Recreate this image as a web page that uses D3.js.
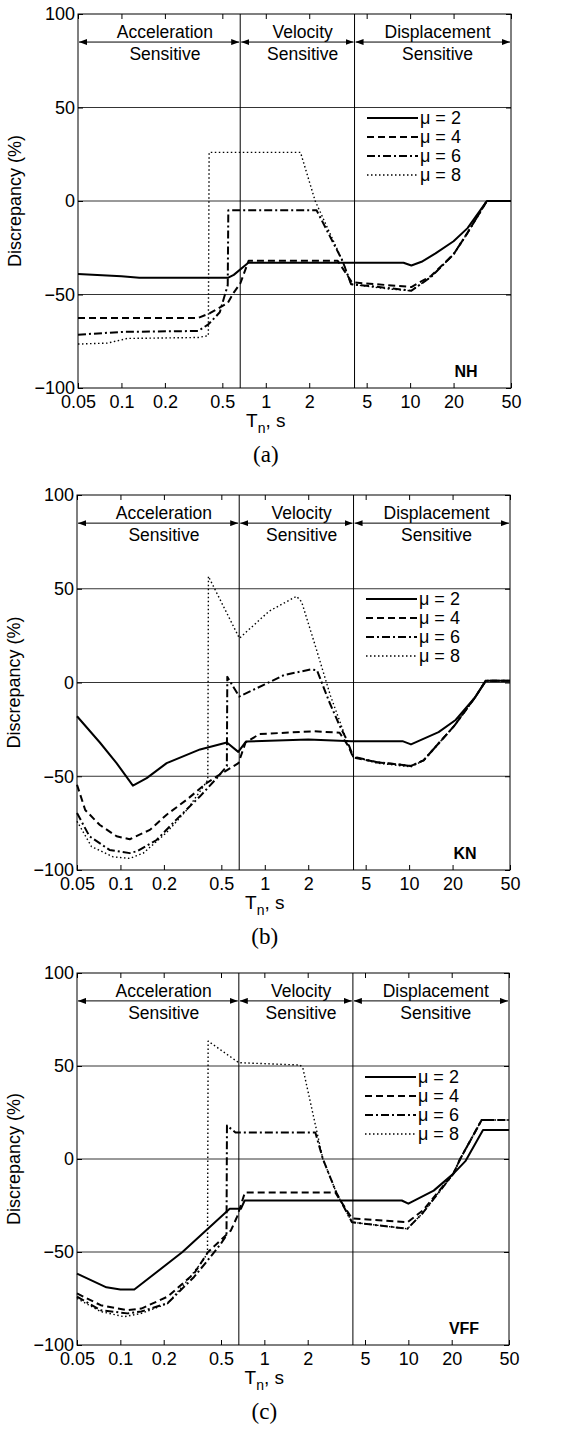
<!DOCTYPE html>
<html>
<head>
<meta charset="utf-8">
<script src="https://cdn.jsdelivr.net/npm/d3@7"></script>
<style>
  html, body { margin: 0; padding: 0; background: #fff; }
  svg { display: block; }
  text { font-family: "Liberation Sans", Arial, Helvetica, sans-serif; fill: #000; }
</style>
</head>
<body>
<svg id="fig" width="570" height="1431"></svg>
<script>
// ---- axis ticks and labels ----
const periodTicks = [0.05, 0.1, 0.2, 0.5, 1, 2, 5, 10, 20, 50];
const periodTickLabels = ["0.05", "0.1", "0.2", "0.5", "1", "2", "5", "10", "20", "50"];
const discrepancyTicks = [-100, -50, 0, 50, 100];
const discrepancyTickLabels = ["\u2212100", "\u221250", "0", "50", "100"];
const gridValues = [-50, 0, 50];

// ---- spectral regions ----
const regionBounds = [0.665, 4.12];
const regionNames = ["Acceleration", "Velocity", "Displacement"];
const regionSubNames = ["Sensitive", "Sensitive", "Sensitive"];
const regionLabelPeriods = [0.2, 1.8, 15.5];
const regionArrowLevel = 85;

// ---- series ----
const ductility = [2, 4, 6, 8];
const modelNames = ["NH", "KN", "VFF"];
const panelTags = ["(a)", "(b)", "(c)"];

// NH model: [Tn (s), discrepancy (%)]
const nhMu2 = [[0.05,-39],[0.1,-40.2],[0.133,-41],[0.55,-41],[0.6,-39.5],[0.757,-33],[9,-33],[10.2,-34.5],[12,-32.5],[15,-28],[20,-21.5],[25,-14.5],[34,0],[50,0]];
const nhMu4 = [[0.05,-62.5],[0.34,-62.5],[0.41,-60],[0.545,-54.5],[0.6,-49],[0.667,-44],[0.76,-32],[3.15,-32],[3.95,-43.5],[7,-45],[10.2,-46],[14,-40],[20,-28.5],[25,-17],[34,0],[50,0]];
const nhMu6 = [[0.05,-71.5],[0.1,-70],[0.34,-69.5],[0.4,-66],[0.48,-59.5],[0.545,-45],[0.55,-5],[2.25,-5],[3.4,-32],[3.9,-44.5],[7,-46.5],[10.2,-48],[14,-40.5],[20,-28.5],[25,-17],[34,0],[50,0]];
const nhMu8 = [[0.05,-76.5],[0.08,-76],[0.11,-73.5],[0.34,-73],[0.4,-72],[0.405,26],[1.74,26],[2.2,0],[3.4,-32],[3.9,-44.5],[7,-47],[10.2,-48],[14,-40.5],[20,-28.5],[25,-17],[34,0],[50,0]];

// KN model
const knMu2 = [[0.05,-18],[0.072,-32],[0.094,-43],[0.122,-55],[0.152,-51],[0.209,-43],[0.356,-35.7],[0.546,-32],[0.655,-37],[0.74,-31.5],[2,-30.4],[4,-31.3],[9,-31.3],[10.3,-33],[16,-26.5],[21,-20],[28.6,-8],[34,1],[50,1]];
const knMu4 = [[0.05,-54.5],[0.057,-68],[0.072,-76],[0.094,-82],[0.116,-83.6],[0.16,-78.6],[0.209,-70.5],[0.288,-62.5],[0.396,-53.6],[0.49,-49],[0.657,-43],[0.736,-32],[0.92,-27.5],[2.2,-26],[3.3,-26.8],[3.8,-34],[4.1,-40],[6,-42.5],[10.3,-44.5],[12.6,-41.5],[20.6,-23],[28.6,-8],[34,1],[50,1]];
const knMu6 = [[0.05,-69.6],[0.061,-82],[0.084,-89.3],[0.116,-91],[0.13,-90],[0.178,-84],[0.245,-73],[0.356,-60.7],[0.465,-51],[0.546,-44.6],[0.55,3],[0.665,-7.5],[1,-1],[1.36,4],[2.1,7],[2.3,6.5],[2.8,-10.4],[3.3,-23],[3.67,-30],[4.1,-39.5],[6,-42.5],[10.3,-44.5],[12.6,-41.5],[20.6,-23],[28.6,-8],[34,1],[50,1]];
const knMu8 = [[0.05,-74],[0.063,-87.5],[0.089,-93],[0.116,-93.8],[0.144,-91],[0.209,-80],[0.288,-68],[0.376,-55.4],[0.403,-52],[0.407,56.6],[0.667,23.6],[1.07,38],[1.66,46],[1.8,43],[2.23,20],[2.85,-7],[3.66,-30],[4.1,-39.5],[6,-43],[10.3,-45],[12.6,-41.5],[20.6,-23],[28.6,-8],[34,1],[50,1]];

// VFF model
const vffMu2 = [[0.05,-61.6],[0.08,-69],[0.1,-70.2],[0.125,-70.2],[0.27,-50],[0.575,-26.8],[0.687,-26.8],[0.73,-22.3],[9,-22.3],[10,-24],[15,-17],[20.5,-8],[25,-1],[33,15.6],[50,15.6]];
const vffMu4 = [[0.05,-72.3],[0.073,-78.6],[0.112,-81.3],[0.14,-80.4],[0.213,-74],[0.325,-61.6],[0.407,-50],[0.586,-38.4],[0.647,-31],[0.668,-27.7],[0.733,-18],[3.11,-18],[4.06,-32],[9.85,-34],[12.6,-27.7],[20.5,-8],[22.9,0],[32.3,21],[50,21]];
const vffMu6 = [[0.05,-74],[0.073,-81.3],[0.112,-83],[0.14,-82],[0.213,-77.5],[0.325,-63.4],[0.404,-54.5],[0.5,-45.5],[0.546,-41],[0.55,18],[0.63,14.3],[2.26,14.3],[2.55,0],[3.16,-18],[4.06,-34],[9.85,-37.5],[12.6,-29],[20.5,-8],[22.9,0],[32.3,21],[50,21]];
const vffMu8 = [[0.05,-75],[0.073,-82],[0.106,-84.8],[0.14,-83],[0.213,-77.7],[0.293,-65.2],[0.383,-53.6],[0.403,-50],[0.407,63.4],[0.664,51.8],[1.77,50.5],[1.85,49],[2.55,0],[3.16,-18],[4.06,-34],[9.85,-37.5],[12.6,-29],[20.5,-8],[22.9,0],[32.3,21],[50,21]];

const panelSeries = [
  [nhMu2, nhMu4, nhMu6, nhMu8],
  [knMu2, knMu4, knMu6, knMu8],
  [vffMu2, vffMu4, vffMu6, vffMu8]
];

// ---- layout and styles ----
const layout = [
  { left: 78, top: 14,  width: 433, height: 374 },
  { left: 77, top: 495, width: 433, height: 375 },
  { left: 77, top: 973, width: 432, height: 372 }
];
const lineStyles = [
  { dash: null,        width: 2 },
  { dash: "7,4",       width: 2 },
  { dash: "8,3,2,3",   width: 2 },
  { dash: "1.5,2.5",   width: 1.4 }
];

const svg = d3.select("#fig");

// arrowhead for the region spans
svg.append("defs").append("marker")
  .attr("id", "arrowhead")
  .attr("viewBox", "0 0 8 6")
  .attr("refX", 8).attr("refY", 3)
  .attr("markerWidth", 8).attr("markerHeight", 6)
  .attr("markerUnits", "userSpaceOnUse")
  .attr("orient", "auto-start-reverse")
  .append("path").attr("d", "M0,0 L8,3 L0,6 Z").attr("fill", "#000");

function drawPanel(p) {
  const L = layout[p];
  const right = L.left + L.width, bottom = L.top + L.height;
  const x = d3.scaleLog().domain([0.05, 50]).range([L.left, right]);
  const y = d3.scaleLinear().domain([-100, 100]).range([bottom, L.top]);
  const g = svg.append("g");

  // horizontal grid lines
  g.append("g").selectAll("line").data(gridValues).join("line")
    .attr("x1", L.left).attr("x2", right)
    .attr("y1", d => y(d)).attr("y2", d => y(d))
    .attr("stroke", "#000").attr("stroke-width", 0.8);

  // region boundaries
  g.append("g").selectAll("line").data(regionBounds).join("line")
    .attr("x1", d => x(d)).attr("x2", d => x(d))
    .attr("y1", L.top).attr("y2", bottom)
    .attr("stroke", "#000").attr("stroke-width", 1);

  // axes with inward ticks
  const styleAxis = sel => {
    sel.attr("font-family", null).attr("font-size", null);
    sel.select(".domain").remove();
    sel.selectAll(".tick line").attr("stroke", "#000").attr("stroke-width", 1);
    sel.selectAll(".tick text").style("font-size", "18px");
  };
  g.append("g").attr("transform", `translate(0,${bottom})`)
    .call(d3.axisBottom(x).tickValues(periodTicks)
      .tickFormat((d, i) => periodTickLabels[i])
      .tickSizeInner(-5).tickSizeOuter(0).tickPadding(7))
    .call(styleAxis);
  g.append("g").attr("transform", `translate(0,${L.top})`)
    .call(d3.axisTop(x).tickValues(periodTicks).tickFormat("")
      .tickSizeInner(-5).tickSizeOuter(0))
    .call(styleAxis);
  g.append("g").attr("transform", `translate(${L.left},0)`)
    .call(d3.axisLeft(y).tickValues(discrepancyTicks)
      .tickFormat((d, i) => discrepancyTickLabels[i])
      .tickSizeInner(-5).tickSizeOuter(0).tickPadding(3))
    .call(styleAxis);
  g.append("g").attr("transform", `translate(${right},0)`)
    .call(d3.axisRight(y).tickValues(discrepancyTicks).tickFormat("")
      .tickSizeInner(-5).tickSizeOuter(0))
    .call(styleAxis);

  // frame
  g.append("rect").attr("x", L.left).attr("y", L.top)
    .attr("width", L.width).attr("height", L.height)
    .attr("fill", "none").attr("stroke", "#000").attr("stroke-width", 1);

  // region spans with double arrows
  const spanEdges = [0.05, ...regionBounds, 50];
  const ay = y(regionArrowLevel);
  regionNames.forEach((name, j) => {
    g.append("line")
      .attr("x1", x(spanEdges[j]) + 1).attr("x2", x(spanEdges[j + 1]) - 1)
      .attr("y1", ay).attr("y2", ay)
      .attr("stroke", "#000").attr("stroke-width", 1)
      .attr("marker-start", "url(#arrowhead)").attr("marker-end", "url(#arrowhead)");
    g.append("text").attr("x", x(regionLabelPeriods[j])).attr("y", ay - 4)
      .attr("text-anchor", "middle").style("font-size", "17.5px").text(name);
    g.append("text").attr("x", x(regionLabelPeriods[j])).attr("y", ay + 18)
      .attr("text-anchor", "middle").style("font-size", "17.5px").text(regionSubNames[j]);
  });

  // discrepancy curves
  const line = d3.line().x(d => x(d[0])).y(d => y(d[1]));
  g.append("g").selectAll("path").data(panelSeries[p]).join("path")
    .attr("d", line)
    .attr("fill", "none").attr("stroke", "#000")
    .attr("stroke-width", (d, k) => lineStyles[k].width)
    .attr("stroke-dasharray", (d, k) => lineStyles[k].dash)
    .attr("stroke-linejoin", "round");

  // legend
  const lg = g.append("g");
  ductility.forEach((mu, k) => {
    const ly = L.top + 104 + 19 * k;
    lg.append("line").attr("x1", right - 144).attr("x2", right - 93)
      .attr("y1", ly).attr("y2", ly)
      .attr("stroke", "#000").attr("stroke-width", lineStyles[k].width)
      .attr("stroke-dasharray", lineStyles[k].dash);
    lg.append("text").attr("x", right - 91).attr("y", ly + 6)
      .style("font-size", "18px").text(`\u03bc = ${mu}`);
  });

  // model name
  g.append("text").attr("x", right - 45).attr("y", bottom - 11)
    .attr("text-anchor", "middle").style("font-size", "16px").style("font-weight", "bold")
    .text(modelNames[p]);

  // axis titles
  const xl = g.append("text").attr("x", x(1)).attr("y", bottom + 39)
    .attr("text-anchor", "middle").style("font-size", "19px");
  xl.append("tspan").text("T");
  xl.append("tspan").attr("dy", 6).style("font-size", "14px").text("n");
  xl.append("tspan").attr("dy", -6).text(", s");

  g.append("text")
    .attr("transform", `translate(${L.left - 57},${(L.top + bottom) / 2}) rotate(-90)`)
    .attr("text-anchor", "middle").style("font-size", "18px")
    .text("Discrepancy (%)");

  g.append("text").attr("x", x(1)).attr("y", bottom + 74)
    .attr("text-anchor", "middle")
    .style("font-family", "'Liberation Serif', 'Times New Roman', serif")
    .style("font-size", "23px")
    .text(panelTags[p]);
}

layout.forEach((_, p) => drawPanel(p));
</script>
</body>
</html>
